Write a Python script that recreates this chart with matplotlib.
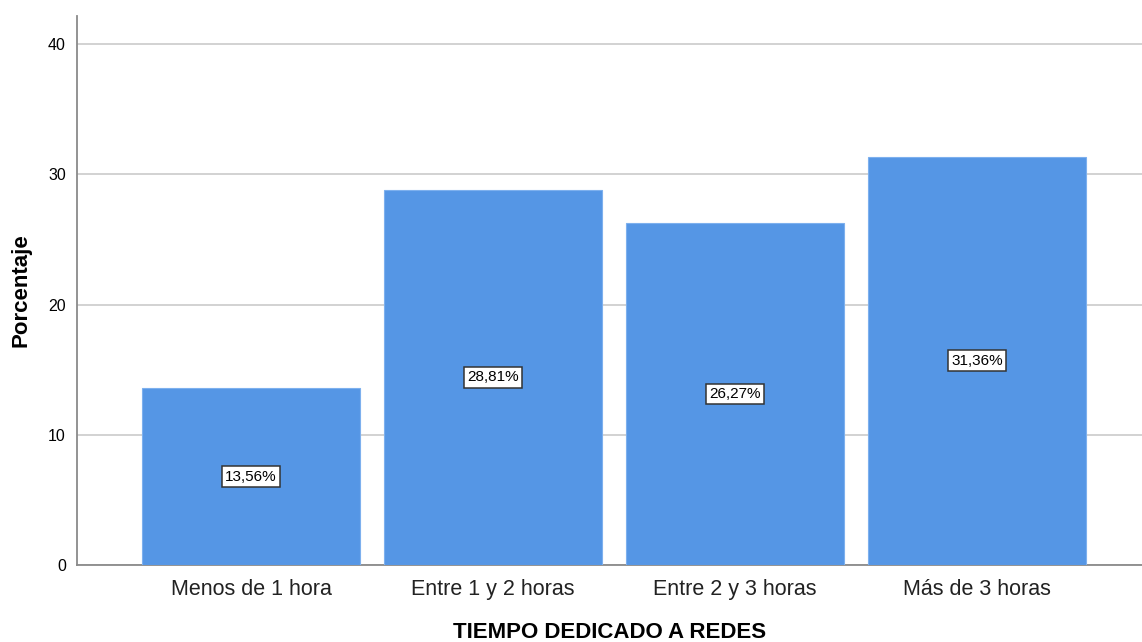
import matplotlib
matplotlib.use("Agg")
import matplotlib.pyplot as plt

categories = ["Menos de 1 hora", "Entre 1 y 2 horas", "Entre 2 y 3 horas", "Más de 3 horas"]
percentages = [13.56, 28.81, 26.27, 31.36]
y_ticks = [0, 10, 20, 30, 40]

plt.rcParams['font.family'] = ['Liberation Sans', 'DejaVu Sans']

fig = plt.figure(figsize=(11.42, 6.42), dpi=100)
ax = fig.add_axes([77 / 1142, 1 - 565 / 642, 1 - 77 / 1142, (565 - 16) / 642])

x = list(range(len(categories)))
bars = ax.bar(x, percentages, width=0.9, color="#5596E5", edgecolor="#7DB0EE",
              linewidth=0.8, zorder=3)

for xi, v in zip(x, percentages):
    ax.text(xi, v / 2, f"{v:.2f}%".replace(".", ","), ha="center", va="center",
            fontsize=11, color="black", zorder=4,
            bbox=dict(boxstyle="square,pad=0.22", facecolor="white",
                      edgecolor="#333333", linewidth=1.1))

ax.set_xlim(-0.719, 3.682)
ax.set_ylim(0, 42.15)
ax.set_yticks(y_ticks)
ax.set_yticklabels([str(t) for t in y_ticks], fontsize=11.5)
ax.set_xticks(x)
ax.set_xticklabels(categories, fontsize=15.5, color="#222222")
ax.tick_params(axis="y", length=0, pad=8)
ax.tick_params(axis="x", length=0, pad=10)

ax.yaxis.grid(True, color="#CFCFCF", linewidth=1.3, zorder=0)
ax.set_axisbelow(True)

for side in ("top", "right"):
    ax.spines[side].set_visible(False)
for side in ("left", "bottom"):
    ax.spines[side].set_color("#8A8A8A")
    ax.spines[side].set_linewidth(1.3)

ax.set_ylabel("Porcentaje", fontsize=16, fontweight="bold", labelpad=12)
ax.set_xlabel("TIEMPO DEDICADO A REDES", fontsize=16, fontweight="bold", labelpad=16)

fig.savefig("out.png", dpi=100, facecolor="white")
